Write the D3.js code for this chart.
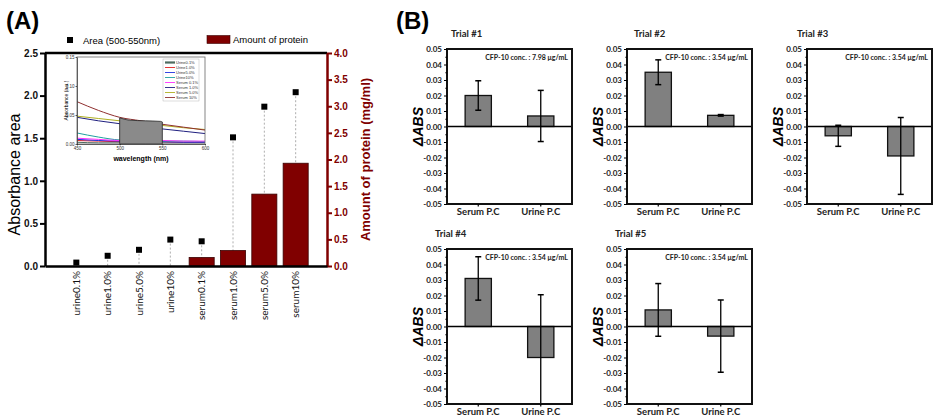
<!DOCTYPE html>
<html>
<head>
<meta charset="utf-8">
<script src="https://cdn.jsdelivr.net/npm/d3@7"></script>
<style>
  body { margin: 0; background: #fff; }
  svg { display: block; }
</style>
</head>
<body>
<svg id="fig" width="938" height="420"></svg>
<script>
// ---- panel A data ----
const categoriesA = ["urine0.1%", "urine1.0%", "urine5.0%", "urine10%", "serum0.1%", "serum1.0%", "serum5.0%", "serum10%"];
const areaValues = [0.04, 0.12, 0.19, 0.31, 0.29, 1.51, 1.87, 2.04];
const proteinValues = [0, 0, 0, 0, 0.16, 0.29, 1.35, 1.93];
const leftTicksA = [0, 0.5, 1.0, 1.5, 2.0, 2.5];
const rightTicksA = [0, 0.5, 1.0, 1.5, 2.0, 2.5, 3.0, 3.5, 4.0];

// inset spectra
const insetWavelengths = [450, 475, 500, 525, 550, 575, 600];
const insetNames = ["Urine0.1%", "Urine1.0%", "Urine5.0%", "Urine10%", "Serum 0.1%", "Serum 1.0%", "Serum 5.0%", "Serum 10%"];
const insetColors = ["#4d6b60", "#e02020", "#2030e0", "#20a0a0", "#ff30ff", "#202080", "#b0b020", "#903030"];
const urine01 = [0.003, 0.002, 0.002, 0.002, 0.002, 0.002, 0.002];
const urine10 = [0.006, 0.005, 0.004, 0.004, 0.004, 0.003, 0.003];
const urine50 = [0.008, 0.006, 0.005, 0.004, 0.004, 0.003, 0.003];
const urine100 = [0.019, 0.012, 0.007, 0.006, 0.005, 0.005, 0.004];
const serum01 = [0.010, 0.008, 0.006, 0.006, 0.006, 0.005, 0.005];
const serum10 = [0.046, 0.040, 0.035, 0.030, 0.026, 0.022, 0.018];
const serum50 = [0.048, 0.044, 0.040, 0.036, 0.032, 0.028, 0.025];
const serum100 = [0.073, 0.058, 0.046, 0.040, 0.034, 0.029, 0.024];
const insetSeries = [urine01, urine10, urine50, urine100, serum01, serum10, serum50, serum100];
const areaBandWl = [500, 505, 512, 530, 548, 550];
const areaBandAbs = [0.045, 0.043, 0.041, 0.040, 0.039, 0.038];
const insetXTicks = [450, 500, 550, 600];
const insetYTicks = [0, 0.05, 0.10, 0.15];

// ---- panel B data ----
const trialNames = ["Trial #1", "Trial #2", "Trial #3", "Trial #4", "Trial #5"];
const trialConc = ["7.98", "3.54", "3.54", "3.54", "3.54"];
const trialCategories = ["Serum P.C", "Urine P.C"];
const serumMeans = [0.020, 0.035, -0.006, 0.031, 0.0107];
const serumErr = [0.0095, 0.008, 0.0068, 0.014, 0.017];
const urineMeans = [0.0068, 0.0072, -0.019, -0.020, -0.0062];
const urineErr = [0.0165, 0.0005, 0.0248, 0.0405, 0.0233];
const absTicks = [-0.05, -0.04, -0.03, -0.02, -0.01, 0, 0.01, 0.02, 0.03, 0.04, 0.05];

const svg = d3.select("#fig");
const darkRed = "#800000";
const arial = "'Liberation Sans', Arial, sans-serif";
const cal = "Lato, 'Open Sans', sans-serif";

// =================== panel A ===================
const A = { left: 45, right: 327, top: 53, bottom: 266 };
const xA = d3.scaleBand().domain(categoriesA).range([A.left, A.right]).paddingInner(0.2).paddingOuter(0.6);
const cx = c => xA(c) + xA.bandwidth() / 2;
const yArea = d3.scaleLinear().domain([0, 2.5]).range([A.bottom, A.top]);
const yProt = d3.scaleLinear().domain([0, 4]).range([A.bottom, A.top]);

const gA = svg.append("g");

svg.append("text").attr("x", 6).attr("y", 29)
  .attr("font-family", arial).attr("font-weight", "bold").attr("font-size", 24).text("(A)");

// drop lines
gA.selectAll(".drop").data(areaValues).join("line")
  .attr("x1", (d, i) => cx(categoriesA[i])).attr("x2", (d, i) => cx(categoriesA[i]))
  .attr("y1", d => yArea(d)).attr("y2", A.bottom)
  .attr("stroke", "#999").attr("stroke-width", 0.8).attr("stroke-dasharray", "2,2");

// protein bars
gA.selectAll(".bar").data(proteinValues.map((v, i) => ({ c: categoriesA[i], v })).filter(d => d.v > 0)).join("rect")
  .attr("x", d => xA(d.c)).attr("width", xA.bandwidth())
  .attr("y", d => yProt(d.v)).attr("height", d => A.bottom - yProt(d.v))
  .attr("fill", darkRed).attr("stroke", "#3a0000").attr("stroke-width", 0.8);

// area squares
gA.selectAll(".sq").data(areaValues).join("rect")
  .attr("x", (d, i) => cx(categoriesA[i]) - 3).attr("y", d => yArea(d) - 3)
  .attr("width", 6).attr("height", 6).attr("fill", "#000");

// top frame line
gA.append("line").attr("x1", A.left).attr("x2", A.right).attr("y1", A.top).attr("y2", A.top)
  .attr("stroke", "#000").attr("stroke-width", 2.5);

// left axis
const axL = gA.append("g").attr("transform", `translate(${A.left},0)`)
  .call(d3.axisLeft(yArea).tickValues(leftTicksA).tickSize(5).tickSizeOuter(0).tickPadding(2).tickFormat(d3.format(".1f")));
axL.select(".domain").attr("stroke-width", 2.5);
axL.selectAll(".tick line").attr("stroke-width", 2);
axL.selectAll("text").attr("font-family", arial).attr("font-weight", "bold").attr("font-size", 10).attr("fill", "#111");

// right axis
const axR = gA.append("g").attr("transform", `translate(${A.right},0)`)
  .call(d3.axisRight(yProt).tickValues(rightTicksA).tickSize(5).tickSizeOuter(0).tickPadding(2).tickFormat(d3.format(".1f")));
axR.select(".domain").attr("stroke", darkRed).attr("stroke-width", 2.5);
axR.selectAll(".tick line").attr("stroke", darkRed).attr("stroke-width", 2);
axR.selectAll("text").attr("font-family", arial).attr("font-weight", "bold").attr("font-size", 10).attr("fill", darkRed);

// bottom axis
const axB = gA.append("g").attr("transform", `translate(0,${A.bottom})`)
  .call(d3.axisBottom(xA).tickSize(0).tickSizeOuter(0));
axB.select(".domain").attr("stroke-width", 2.5);
axB.selectAll("text")
  .attr("transform", "rotate(-90)").attr("text-anchor", "end")
  .attr("x", -5).attr("y", 0).attr("dy", "0.35em")
  .attr("font-family", cal).attr("font-size", 10).attr("fill", "#111");

// axis titles
gA.append("text").attr("transform", `translate(20,${(A.top + A.bottom) / 2 + 15}) rotate(-90)`)
  .attr("text-anchor", "middle").attr("font-family", arial).attr("font-size", 16).text("Absorbance area");
gA.append("text").attr("transform", `translate(370,${(A.top + A.bottom) / 2}) rotate(-90)`)
  .attr("text-anchor", "middle").attr("font-family", arial).attr("font-size", 13).attr("font-weight", "bold")
  .attr("fill", darkRed).text("Amount of protein (mg/ml)");

// legend
gA.append("rect").attr("x", 67).attr("y", 37).attr("width", 6).attr("height", 6).attr("fill", "#000");
gA.append("text").attr("x", 83).attr("y", 44).attr("font-family", arial).attr("font-size", 9.5).text("Area (500-550nm)");
gA.append("rect").attr("x", 207).attr("y", 35.5).attr("width", 23).attr("height", 8)
  .attr("fill", darkRed).attr("stroke", "#3a0000").attr("stroke-width", 0.6);
gA.append("text").attr("x", 233).attr("y", 43).attr("font-family", arial).attr("font-size", 9.5).text("Amount of protein");

// ---- inset ----
const I = { left: 77, right: 205, top: 57, bottom: 144 };
const xI = d3.scaleLinear().domain([450, 600]).range([I.left, I.right]);
const yI = d3.scaleLinear().domain([0, 0.15]).range([I.bottom, I.top]);
const gI = svg.append("g");
gI.append("rect").attr("x", I.left).attr("y", I.top).attr("width", I.right - I.left).attr("height", I.bottom - I.top)
  .attr("fill", "#fff");

const lineI = d3.line().x((d, i) => xI(insetWavelengths[i])).y(d => yI(d)).curve(d3.curveMonotoneX);
gI.selectAll(".spec").data(insetSeries).join("path")
  .attr("d", d => lineI(d)).attr("fill", "none")
  .attr("stroke", (d, i) => insetColors[i]).attr("stroke-width", 1);

const areaI = d3.area().x((d, i) => xI(areaBandWl[i])).y0(yI(0)).y1(d => yI(d)).curve(d3.curveMonotoneX);
gI.append("path").attr("d", areaI(areaBandAbs)).attr("fill", "#8a8a8a").attr("stroke", "#222").attr("stroke-width", 0.8);

gI.append("rect").attr("x", I.left).attr("y", I.top).attr("width", I.right - I.left).attr("height", I.bottom - I.top)
  .attr("fill", "none").attr("stroke", "#666").attr("stroke-width", 0.8);

const iaxL = gI.append("g").attr("transform", `translate(${I.left},0)`)
  .call(d3.axisLeft(yI).tickValues(insetYTicks).tickSize(1.5).tickSizeOuter(0).tickPadding(1).tickFormat(d3.format(".2f")));
const iaxB = gI.append("g").attr("transform", `translate(0,${I.bottom})`)
  .call(d3.axisBottom(xI).tickValues(insetXTicks).tickSize(1.5).tickSizeOuter(0).tickPadding(1).tickFormat(d3.format("d")));
[iaxL, iaxB].forEach(a => {
  a.select(".domain").attr("stroke", "#444").attr("stroke-width", 0.8);
  a.selectAll(".tick line").attr("stroke-width", 0.6);
  a.selectAll("text").attr("font-family", arial).attr("font-size", 4.5).attr("fill", "#333");
});
gI.append("text").attr("transform", `translate(68,${(I.top + I.bottom) / 2}) rotate(-90)`)
  .attr("text-anchor", "middle").attr("font-family", arial).attr("font-size", 5).text("Absorbance (a.u.)");
gI.append("text").attr("x", (I.left + I.right) / 2).attr("y", 161).attr("text-anchor", "middle")
  .attr("font-family", arial).attr("font-weight", "bold").attr("font-size", 7).text("wavelength (nm)");

// inset legend
const leg = gI.append("g").attr("transform", "translate(163,59)");
leg.append("rect").attr("x", 0).attr("y", 0).attr("width", 36).attr("height", 42)
  .attr("fill", "#fff").attr("stroke", "#aaa").attr("stroke-width", 0.4);
insetNames.forEach((n, i) => {
  leg.append("line").attr("x1", 2).attr("x2", 12).attr("y1", 3.5 + i * 5).attr("y2", 3.5 + i * 5)
    .attr("stroke", insetColors[i]).attr("stroke-width", i === 0 ? 2.2 : 0.9);
  leg.append("text").attr("x", 13).attr("y", 5 + i * 5).attr("font-family", arial).attr("font-size", 4)
    .attr("fill", "#333").text(n);
});

// =================== panel B ===================
svg.append("text").attr("x", 396).attr("y", 29)
  .attr("font-family", arial).attr("font-weight", "bold").attr("font-size", 24).text("(B)");

const cols = [447, 627, 807];
const rows = [49, 249];
const pos = [[0, 0], [1, 0], [2, 0], [0, 1], [1, 1]];
const titleDx = [4, 7, -10, -12, -12];
const pw = 125, ph = 155;
const fmtAbs = d => d3.format(".2f")(d).replace("\u2212", "-");

trialNames.forEach((name, t) => {
  const g = svg.append("g").attr("transform", `translate(${cols[pos[t][0]]},${rows[pos[t][1]]})`);
  const y = d3.scaleLinear().domain([-0.05, 0.05]).range([ph, 0]);
  const xb = d3.scaleBand().domain(trialCategories).range([0, pw]).paddingInner(0.58).paddingOuter(0.29);
  const vals = [
    { c: trialCategories[0], m: serumMeans[t], e: serumErr[t] },
    { c: trialCategories[1], m: urineMeans[t], e: urineErr[t] }
  ];

  g.selectAll(".b").data(vals).join("rect")
    .attr("x", d => xb(d.c)).attr("width", xb.bandwidth())
    .attr("y", d => Math.min(y(d.m), y(0))).attr("height", d => Math.abs(y(d.m) - y(0)))
    .attr("fill", "#808080").attr("stroke", "#111").attr("stroke-width", 1.3);

  // zero line
  g.append("line").attr("x1", 0).attr("x2", pw).attr("y1", y(0)).attr("y2", y(0))
    .attr("stroke", "#000").attr("stroke-width", 1.5);

  // error bars
  vals.forEach(d => {
    const xc = xb(d.c) + xb.bandwidth() / 2;
    const hi = d.m + d.e, lo = d.m - d.e;
    const hiC = Math.min(hi, 0.05), loC = Math.max(lo, -0.05);
    g.append("line").attr("x1", xc).attr("x2", xc).attr("y1", y(hiC)).attr("y2", y(loC))
      .attr("stroke", "#000").attr("stroke-width", 1.3);
    if (hi <= 0.05) g.append("line").attr("x1", xc - 3).attr("x2", xc + 3).attr("y1", y(hi)).attr("y2", y(hi))
      .attr("stroke", "#000").attr("stroke-width", 1.5);
    if (lo >= -0.05) g.append("line").attr("x1", xc - 3).attr("x2", xc + 3).attr("y1", y(lo)).attr("y2", y(lo))
      .attr("stroke", "#000").attr("stroke-width", 1.5);
  });

  // frame
  g.append("rect").attr("x", 0).attr("y", 0).attr("width", pw).attr("height", ph)
    .attr("fill", "none").attr("stroke", "#111").attr("stroke-width", 2);

  // y axis major + minor ticks
  const ay = g.append("g").call(d3.axisLeft(y).tickValues(absTicks).tickSize(3).tickSizeOuter(0).tickPadding(2).tickFormat(fmtAbs));
  ay.select(".domain").remove();
  ay.selectAll(".tick line").attr("stroke-width", 1);
  ay.selectAll("text").attr("font-family", cal).attr("font-weight", "bold").attr("font-size", 8).attr("fill", "#222");
  const minor = absTicks.slice(0, -1).map(v => v + 0.005);
  const am = g.append("g").call(d3.axisLeft(y).tickValues(minor).tickSize(1.8).tickSizeOuter(0).tickFormat(""));
  am.select(".domain").remove();
  am.selectAll(".tick line").attr("stroke-width", 0.8);

  // x ticks and labels
  const ax = g.append("g").attr("transform", `translate(0,${ph})`)
    .call(d3.axisBottom(xb).tickSize(2.5).tickSizeOuter(0).tickPadding(2));
  ax.select(".domain").remove();
  ax.selectAll(".tick line").attr("stroke-width", 1.2);
  ax.selectAll("text").attr("font-family", cal).attr("font-weight", "bold").attr("font-size", 9.5).attr("fill", "#222");

  // texts
  g.append("text").attr("x", titleDx[t]).attr("y", -12)
    .attr("font-family", cal).attr("font-weight", "bold").attr("font-size", 9.5).attr("fill", "#222").text(name);
  g.append("text").attr("x", pw - 4).attr("y", 11).attr("text-anchor", "end")
    .attr("font-family", cal).attr("font-weight", "bold").attr("font-size", 7).attr("fill", "#222")
    .text(`CFP-10 conc. : ${trialConc[t]} \u03bcg/mL`);
  g.append("text").attr("transform", `translate(-24,${ph / 2}) rotate(-90)`).attr("text-anchor", "middle")
    .attr("font-family", arial).attr("font-weight", "bold").attr("font-style", "italic").attr("font-size", 14)
    .text("\u0394ABS");
});
</script>
</body>
</html>
